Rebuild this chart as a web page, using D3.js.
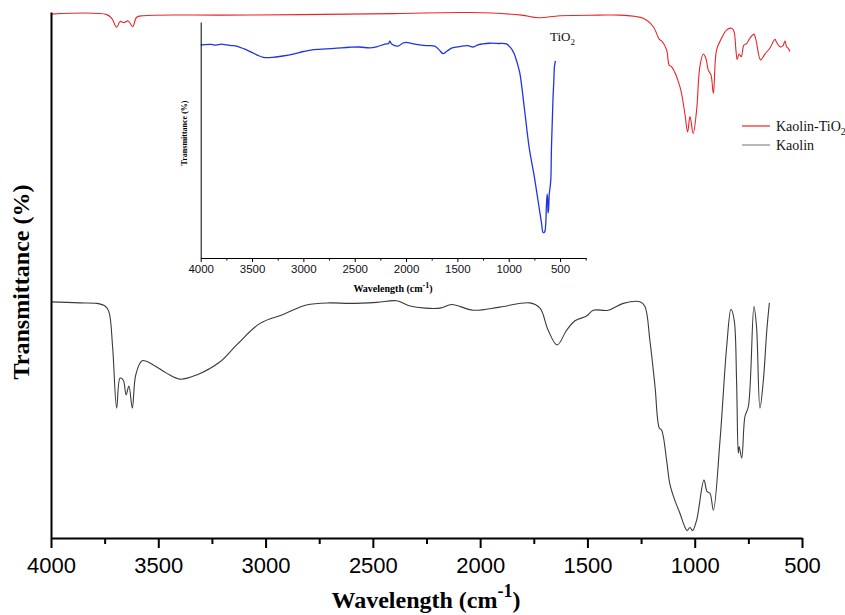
<!DOCTYPE html>
<html>
<head>
<meta charset="utf-8">
<script src="https://cdnjs.cloudflare.com/ajax/libs/d3/7.8.5/d3.min.js"></script>
<style>
body { margin: 0; background: #fff; }
svg { display: block; }
</style>
</head>
<body>
<svg id="chart" width="845" height="615"></svg>
<script>
// FTIR spectra, values (transmittance in arbitrary %)
var kaolinWn = [4000, 3865, 3787, 3748, 3730, 3713, 3694, 3678, 3663, 3650, 3637, 3621, 3605, 3575, 3523, 3460,
    3399, 3321, 3212, 3135, 3026, 2918, 2809, 2700, 2607, 2482, 2389, 2327, 2187, 2133, 2032, 1908, 1768, 1721,
    1683, 1641, 1597, 1558, 1504, 1473, 1403, 1333, 1255, 1232, 1209, 1185, 1165, 1154, 1131, 1116, 1093, 1069,
    1046, 1035, 1022, 1010, 991, 957, 942, 929, 913, 882, 851, 831, 816, 805, 797, 793, 781, 766, 750, 724, 712,
    696, 680, 664, 652];
var kaolinT = [44.9, 44.7, 44.6, 44.1, 43.0, 36.4, 24.7, 30.4, 30.0, 27.2, 28.9, 24.7, 31.0, 33.7, 32.9, 31.3,
    30.2, 31.0, 33.5, 36.7, 40.8, 42.5, 44.3, 44.7, 44.6, 44.8, 45.1, 44.1, 43.7, 44.4, 43.3, 43.9, 44.7, 43.7,
    39.5, 36.7, 39.5, 41.3, 42.2, 43.3, 43.3, 44.6, 44.9, 44.0, 37.6, 28.8, 20.9, 20.5, 14.8, 10.3, 7.2, 4.7,
    2.1, 1.4, 2.0, 1.4, 3.4, 11.0, 8.8, 8.5, 5.3, 18.6, 36.4, 43.5, 41.4, 30.0, 16.1, 17.4, 15.2, 23.1, 25.0, 44.0, 40.2,
    24.7, 30.0, 39.5, 44.7];

var kaolinTiWn = [4000, 3740, 3717, 3694, 3678, 3660, 3640, 3619, 3601, 3570, 3200, 2840, 2400, 2047, 1807, 1730,
    1628, 1449, 1348, 1240, 1193, 1165, 1154, 1131, 1119, 1108, 1069, 1046, 1033, 1022, 1007, 991, 976, 960, 948,
    937, 924, 913, 898, 875, 851, 828, 817, 808, 802, 793, 783, 771, 758, 743, 724, 715, 693, 673, 650, 626, 618,
    603, 590, 579, 572, 564, 556];
var kaolinTiT = [99.6, 99.5, 98.8, 97.1, 98.2, 98.0, 98.3, 97.2, 99.0, 99.3, 99.4, 99.5, 99.7, 99.9, 99.4, 98.9,
    99.3, 99.4, 99.4, 98.8, 97.2, 94.8, 94.5, 92.8, 89.9, 89.6, 85.8, 80.7, 77.2, 80.1, 76.9, 81.4, 89.6, 92.0, 91.2,
    89.0, 88.0, 84.5, 92.8, 95.0, 96.6, 96.9, 96.3, 92.8, 91.0, 92.0, 91.5, 93.7, 94.0, 95.0, 95.8, 94.8, 90.9, 92.0,
    93.1, 94.8, 94.2, 93.4, 93.5, 94.5, 93.4, 93.1, 92.5];

var tio2Wn = [4000, 3900, 3850, 3800, 3750, 3700, 3650, 3550, 3450, 3390, 3300, 3200, 3100, 3000, 2900, 2700, 2547,
    2450, 2352, 2280, 2206, 2170, 2158, 2140, 2077, 2030, 1995, 1950, 1900, 1800, 1720, 1680, 1639, 1600, 1550,
    1476, 1400, 1346, 1300, 1184, 1100, 1022, 980, 950, 920, 892, 850, 800, 750, 700, 680, 665, 650, 640, 632, 625,
    620, 617, 612, 605, 600, 590, 584, 575, 568, 560, 555, 545];
var tio2T = [90.3, 90.5, 90.2, 90.6, 90.3, 90.0, 89.8, 88.1, 86.0, 85.0, 85.0, 85.6, 86.4, 87.5, 88.3, 88.8, 89.3,
    89.4, 89.0, 89.6, 90.6, 90.9, 91.9, 90.7, 89.8, 91.1, 91.4, 90.9, 90.5, 90.0, 89.8, 88.3, 86.6, 87.7, 89.0,
    89.6, 90.0, 89.4, 90.3, 91.0, 90.9, 90.7, 89.0, 86.9, 83.1, 78.4, 64.4, 46.6, 34.3, 20.3, 14.7, 10.8, 11.0, 14.0,
    22.9, 27.1, 24.6, 19.1, 20.3, 27.1, 28.8, 33.1, 45.8, 58.5, 68.2, 75.4, 80.9, 83.5];

var majorTicks = [4000, 3500, 3000, 2500, 2000, 1500, 1000, 500];
var minorTicks = [3750, 3250, 2750, 2250, 1750, 1250, 750];
var insetMinor = [3750, 3250, 2750, 2250, 1750, 1250, 750, 250];

var legendNames = ['Kaolin-TiO', 'Kaolin'];
var legendColors = ['#e8262a', '#888888'];

function pairs(wn, t) {
    return wn.map(function (d, i) { return { wn: d, t: t[i] }; });
}

var svg = d3.select('#chart');
var serif = '"Liberation Serif", "Times New Roman", serif';
var sans = '"Liberation Sans", Arial, sans-serif';

// ---- main plot ----
var x = d3.scaleLinear().domain([4000, 500]).range([51, 802]);
var y = d3.scaleLinear().domain([0, 100]).range([538, 12]);

var line = d3.line()
    .x(function (d) { return x(d.wn); })
    .y(function (d) { return y(d.t); })
    .curve(d3.curveCatmullRom.alpha(0.5));

svg.append('path').datum(pairs(kaolinWn, kaolinT))
    .attr('d', line).attr('fill', 'none').attr('stroke', '#3a3a3a').attr('stroke-width', 1.1);
svg.append('path').datum(pairs(kaolinTiWn, kaolinTiT))
    .attr('d', line).attr('fill', 'none').attr('stroke', '#e8262a').attr('stroke-width', 1.1);

var gx = svg.append('g').attr('transform', 'translate(0,538)')
    .call(d3.axisBottom(x).tickValues(majorTicks).tickSize(10).tickSizeOuter(0).tickPadding(9)
        .tickFormat(d3.format('d')));
gx.select('.domain').attr('stroke-width', 2);
gx.selectAll('.tick line').attr('stroke-width', 2);
gx.selectAll('.tick text').attr('font-family', sans).attr('font-size', 22).attr('fill', '#000');

var gxm = svg.append('g').attr('transform', 'translate(0,538)')
    .call(d3.axisBottom(x).tickValues(minorTicks).tickSize(6).tickFormat(''));
gxm.select('.domain').remove();
gxm.selectAll('.tick line').attr('stroke-width', 2);

var gy = svg.append('g').attr('transform', 'translate(51,0)')
    .call(d3.axisLeft(y).tickValues([]).tickSizeOuter(0));
gy.select('.domain').attr('stroke-width', 2);

var xl = svg.append('text').attr('x', 426).attr('y', 608).attr('text-anchor', 'middle')
    .attr('font-family', serif).attr('font-weight', 'bold').attr('font-size', 24);
xl.append('tspan').text('Wavelength (cm');
xl.append('tspan').attr('dy', -11).attr('font-size', 18).text('-1');
xl.append('tspan').attr('dy', 11).text(')');

svg.append('text').attr('transform', 'translate(29,282) rotate(-90)').attr('text-anchor', 'middle')
    .attr('font-family', serif).attr('font-weight', 'bold').attr('font-size', 24)
    .text('Transmittance (%)');

// legend
var leg = svg.append('g').selectAll('g').data(legendNames).enter().append('g')
    .attr('transform', function (d, i) { return 'translate(742,' + (126 + i * 19) + ')'; });
leg.append('line').attr('x1', 0).attr('x2', 28).attr('y1', 0).attr('y2', 0)
    .attr('stroke', function (d, i) { return legendColors[i]; }).attr('stroke-width', 1.2);
var lt = leg.append('text').attr('x', 34).attr('y', 5)
    .attr('font-family', serif).attr('font-size', 14).attr('fill', '#111');
lt.append('tspan').text(function (d) { return d; });
lt.filter(function (d, i) { return i == 0; }).append('tspan').attr('dy', 4).attr('font-size', 10).text('2');

// ---- inset: TiO2 ----
var xi = d3.scaleLinear().domain([4000, 250]).range([200.7, 585.7]);
var yi = d3.scaleLinear().domain([0, 100]).range([258, 22]);

var lineI = d3.line()
    .x(function (d) { return xi(d.wn); })
    .y(function (d) { return yi(d.t); })
    .curve(d3.curveCatmullRom.alpha(0.5));

svg.append('path').datum(pairs(tio2Wn, tio2T))
    .attr('d', lineI).attr('fill', 'none').attr('stroke', '#2035e0').attr('stroke-width', 1.3);

var gxi = svg.append('g').attr('transform', 'translate(0,258)')
    .call(d3.axisBottom(xi).tickValues(majorTicks).tickSize(4).tickSizeOuter(0).tickPadding(3)
        .tickFormat(d3.format('d')));
gxi.selectAll('.tick text').attr('font-family', sans).attr('font-size', 11.5).attr('fill', '#111');
var gxim = svg.append('g').attr('transform', 'translate(0,258)')
    .call(d3.axisBottom(xi).tickValues(insetMinor).tickSize(2.5).tickFormat(''));
gxim.select('.domain').remove();

svg.append('g').attr('transform', 'translate(200.7,0)')
    .call(d3.axisLeft(yi).tickValues([]).tickSizeOuter(0));

var xli = svg.append('text').attr('x', 393).attr('y', 292).attr('text-anchor', 'middle')
    .attr('font-family', serif).attr('font-weight', 'bold').attr('font-size', 10);
xli.append('tspan').text('Wavelength (cm');
xli.append('tspan').attr('dy', -4).attr('font-size', 8).text('-1');
xli.append('tspan').attr('dy', 4).text(')');

svg.append('text').attr('transform', 'translate(187,133) rotate(-90)').attr('text-anchor', 'middle')
    .attr('font-family', serif).attr('font-weight', 'bold').attr('font-size', 8)
    .text('Transmittance (%)');

var tl = svg.append('text').attr('x', 550).attr('y', 41).attr('font-family', serif).attr('font-size', 13)
    .attr('fill', '#111');
tl.append('tspan').text('TiO');
tl.append('tspan').attr('dy', 4).attr('font-size', 9).text('2');
</script>
</body>
</html>
